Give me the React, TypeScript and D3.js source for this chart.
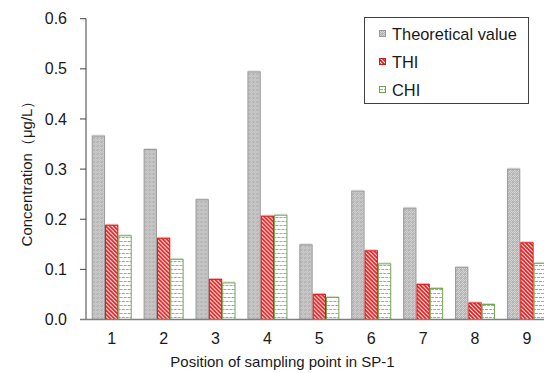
import React from "react";
import * as d3 from "d3";

const categories = ["1", "2", "3", "4", "5", "6", "7", "8", "9"];
const seriesNames = ["Theoretical value", "THI", "CHI"];
const theoretical = [0.366, 0.339, 0.239, 0.494, 0.149, 0.256, 0.222, 0.104, 0.3];
const thi = [0.188, 0.162, 0.08, 0.206, 0.05, 0.137, 0.07, 0.033, 0.153];
const chi = [0.167, 0.12, 0.073, 0.208, 0.044, 0.111, 0.062, 0.03, 0.112];
const yTicks = [0, 0.1, 0.2, 0.3, 0.4, 0.5, 0.6];
const xTitle = "Position of sampling point in SP-1";
const yTitle = "Concentration（μg/L）";

const W = 544;
const H = 373;
const FONT = "Liberation Sans, Arial, sans-serif";

export default function App() {
  const seriesValues = [theoretical, thi, chi];
  const fills = ["url(#patTheo)", "url(#patThi)", "url(#patChi)"];
  const strokes = ["#9a9a9a", "#d81818", "#72a552"];

  const x0 = d3
    .scaleBand<string>()
    .domain(categories)
    .range([85.75, 552.9])
    .paddingInner(0.229)
    .paddingOuter(0.1145);
  const x1 = d3
    .scaleBand<string>()
    .domain(seriesNames)
    .range([0, x0.bandwidth()]);
  const y = d3.scaleLinear().domain([0, 0.6]).range([319.5, 18.7]);
  const fmt = d3.format(".1f");

  const legendY = [34, 62, 90];

  return (
    <svg
      width={W}
      height={H}
      style={{ position: "absolute", left: 0, top: 0, background: "#fff" }}
      fontFamily={FONT}
    >
      <defs>
        <pattern id="patTheo" width="4" height="4" patternUnits="userSpaceOnUse">
          <rect width="4" height="4" fill="#d6d6d6" />
          <rect x="0" y="0" width="1" height="1" fill="#b4b4b4" />
          <rect x="2" y="0" width="1" height="1" fill="#b4b4b4" />
          <rect x="1" y="1" width="1" height="1" fill="#b4b4b4" />
          <rect x="3" y="1" width="1" height="1" fill="#b4b4b4" />
          <rect x="0" y="2" width="1" height="1" fill="#b4b4b4" />
          <rect x="2" y="2" width="1" height="1" fill="#b4b4b4" />
          <rect x="1" y="3" width="1" height="1" fill="#b4b4b4" />
          <rect x="3" y="3" width="1" height="1" fill="#b4b4b4" />
          <rect x="1" y="1" width="2" height="2" fill="#a8a8a8" opacity="0.6" />
        </pattern>
        <pattern id="patThi" width="4" height="4" patternUnits="userSpaceOnUse">
          <rect width="4" height="4" fill="#ffffff" />
          <path d="M-1,-1 L5,5 M-1,3 L1,5 M3,-1 L5,1" stroke="#e01b1b" strokeWidth="1.8" />
        </pattern>
        <pattern id="patChi" width="8" height="8" patternUnits="userSpaceOnUse">
          <rect width="8" height="8" fill="#ffffff" />
          <rect x="0" y="1" width="3" height="1" fill="#8dbd71" />
          <rect x="4" y="1" width="3" height="1" fill="#8dbd71" />
          <rect x="2" y="5" width="3" height="1" fill="#8dbd71" />
          <rect x="6" y="5" width="2" height="1" fill="#8dbd71" />
          <rect x="0" y="5" width="1" height="1" fill="#8dbd71" />
        </pattern>
      </defs>

      {/* bars */}
      {categories.map((c, i) => (
        <g key={c} transform={`translate(${x0(c)},0)`}>
          {seriesNames.map((s, k) => {
            const v = seriesValues[k][i];
            const bx = x1(s)!;
            const by = y(v);
            return (
              <g key={s}>
                <rect
                  x={bx + 0.5}
                  y={by - 1.5}
                  width={x1.bandwidth() - 1}
                  height={1}
                  fill={strokes[k]}
                  opacity={0.3}
                />
                <rect
                  x={bx + 0.5}
                  y={by}
                  width={x1.bandwidth() - 1}
                  height={y(0) - by}
                  fill={fills[k]}
                  stroke={strokes[k]}
                  strokeWidth={1}
                />
              </g>
            );
          })}
        </g>
      ))}

      {/* y axis */}
      <line x1={86} x2={86} y1={y(0.6)} y2={y(0)} stroke="#404040" strokeWidth={1} />
      {yTicks.map((t) => (
        <g key={t}>
          <line x1={80} x2={86} y1={y(t)} y2={y(t)} stroke="#404040" strokeWidth={1} />
          <text
            x={67}
            y={y(t)}
            dy="0.35em"
            textAnchor="end"
            fontSize={16}
            fill="#1a1a1a"
          >
            {fmt(t)}
          </text>
        </g>
      ))}

      {/* x axis */}
      <line x1={80} x2={W} y1={y(0)} y2={y(0)} stroke="#7f7f7f" strokeWidth={1.5} />
      {categories.map((c) => (
        <text
          key={c}
          x={x0(c)! + x0.bandwidth() / 2}
          y={344}
          textAnchor="middle"
          fontSize={16}
          fill="#1a1a1a"
        >
          {c}
        </text>
      ))}

      {/* titles */}
      <text x={282.5} y={367} textAnchor="middle" fontSize={15} fill="#1a1a1a">
        {xTitle}
      </text>
      <text
        transform={`translate(32,${170}) rotate(-90)`}
        textAnchor="middle"
        fontSize={15}
        fill="#1a1a1a"
      >
        {yTitle}
      </text>

      {/* legend */}
      <rect x={364.5} y={17.5} width={164} height={86} fill="#fff" stroke="#404040" strokeWidth={1} />
      {seriesNames.map((s, k) => (
        <g key={s}>
          <rect
            x={379.5}
            y={legendY[k] - 3.5}
            width={6}
            height={6}
            fill={fills[k]}
            stroke={strokes[k]}
            strokeWidth={1}
          />
          <text x={392} y={legendY[k]} dy="0.35em" fontSize={16.4} fill="#1a1a1a">
            {s}
          </text>
        </g>
      ))}
    </svg>
  );
}
